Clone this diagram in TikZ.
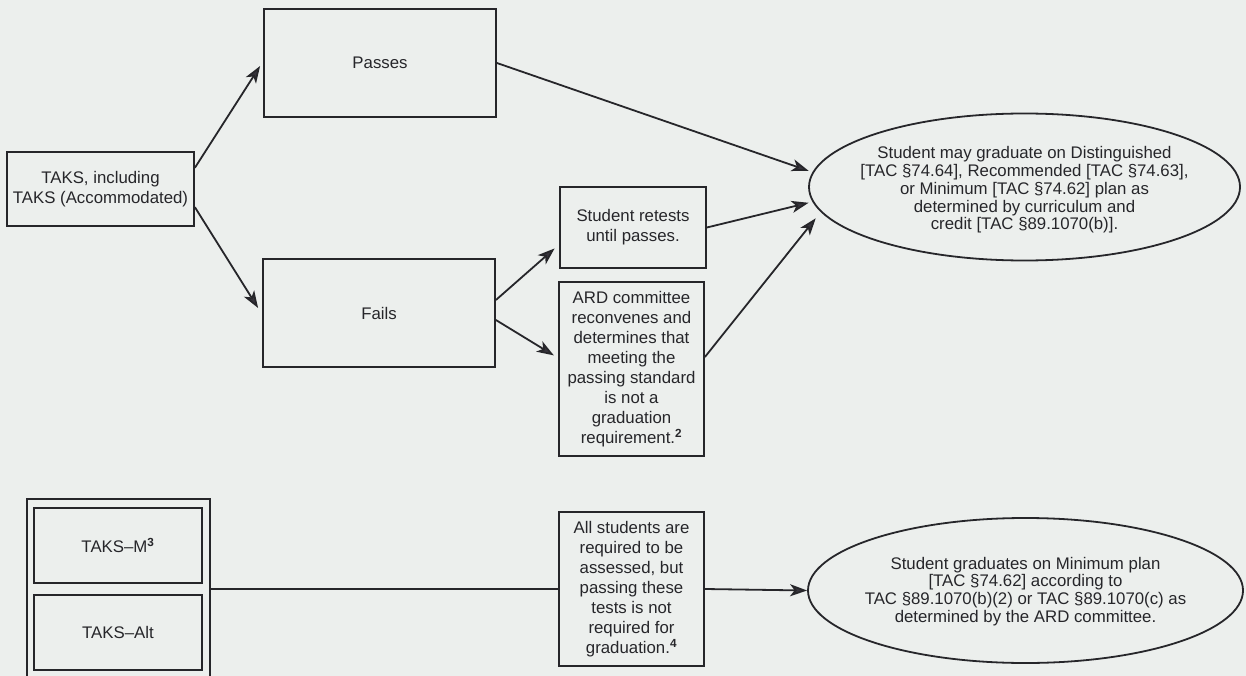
\documentclass[tikz,border=0pt]{standalone}
\usepackage{fontspec}
\setmainfont{Liberation Sans}
\usetikzlibrary{arrows.meta,calc,shapes.geometric}
\definecolor{bgc}{RGB}{236,239,237}
\definecolor{ink}{RGB}{38,38,42}
\definecolor{tipc}{RGB}{55,52,60}
\begin{document}
\begin{tikzpicture}[x=1pt,y=-1pt,
  box/.style={draw=ink, line width=1.8pt, text=ink, align=center, inner sep=0pt, rectangle},
  ell/.style={ellipse, draw=ink, line width=1.8pt, inner sep=0pt},
  elltext/.style={text=ink, align=center, inner sep=0pt, font=\fontsize{16.8}{17.8}\selectfont},
  arr/.style={draw=ink, line width=1.8pt, -{Stealth[length=17pt,width=12pt,inset=4.5pt,fill=tipc]}},
  conn/.style={draw=ink, line width=1.8pt},
  font=\fontsize{16.8}{20}\selectfont]
\fill[bgc] (0,0) rectangle (1246,676);
\useasboundingbox (0,0) rectangle (1246,676);

\node[box, minimum width=187pt, minimum height=74pt] (taks) at (100.5,189) {TAKS, including\\TAKS (Accommodated)};
\node[box, minimum width=232pt, minimum height=108pt] (passes) at (380,63) {Passes};
\node[box, minimum width=232pt, minimum height=108pt] (fails) at (379,313) {Fails};
\node[box, minimum width=146pt, minimum height=81pt] (retest) at (633,227.5) {Student retests\\until passes.};
\node[box, minimum width=145pt, minimum height=174pt] (ard) at (631.5,369) {ARD committee\\reconvenes and\\determines that\\meeting the\\passing standard\\is not a\\graduation\\requirement.\textsuperscript{\textbf{2}}};
\node[ell, minimum width=431pt, minimum height=147pt] (ell1) at (1024.5,187) {};
\node[elltext] (ell1t) at ($(ell1.center)+(0,3)$) {Student may graduate on Distinguished\\{[}TAC §74.64], Recommended [TAC §74.63],\\or Minimum [TAC §74.62] plan as\\determined by curriculum and\\credit [TAC §89.1070(b)].};

\begin{scope}
\clip (0,0) rectangle (1246,676);
\node[box, minimum width=183pt, minimum height=201pt] (outer) at (118.5,599.5) {};
\end{scope}
\node[box, minimum width=168pt, minimum height=75pt] (takm) at (118,545.5) {TAKS–M\textsuperscript{\textbf{3}}};
\node[box, minimum width=168pt, minimum height=75pt] (taka) at (118,632.5) {TAKS–Alt};
\node[box, minimum width=145pt, minimum height=154pt] (allst) at (631.5,589) {All students are\\required to be\\assessed, but\\passing these\\tests is not\\required for\\graduation.\textsuperscript{\textbf{4}}};
\node[ell, minimum width=435pt, minimum height=145pt] (ell2) at (1025.5,590.5) {};
\node[elltext] (ell2t) at ($(ell2.center)+(0,1)$) {Student graduates on Minimum plan\\{[}TAC §74.62] according to\\TAC §89.1070(b)(2) or TAC §89.1070(c) as\\determined by the ARD committee.};

\draw[arr] ($(taks.north east)!0.22!(taks.south east)$) -- ($(passes.west)+(-3,3)$);
\draw[arr] ($(taks.north east)!0.74!(taks.south east)$) -- ($(fails.west)+(-4,-5)$);
\draw[arr, shorten >=4pt] (passes.east) -- (ell1.176);
\draw[arr, shorten >=6pt] ($(fails.east)+(0,-13)$) -- ($(retest.west)+(0,17)$);
\draw[arr, shorten >=5pt] ($(fails.east)+(0,7)$) -- ($(ard.west)+(0,-11)$);
\draw[arr, shorten >=4pt] (retest.east) -- (ell1.184);
\draw[arr, shorten >=8pt] ($(ard.east)+(0,-12)$) -- (ell1.187);
\draw[conn] (allst.west -| outer.east) -- (allst.west);
\draw[arr] (allst.east) -- (ell2.west);
\end{tikzpicture}
\end{document}
